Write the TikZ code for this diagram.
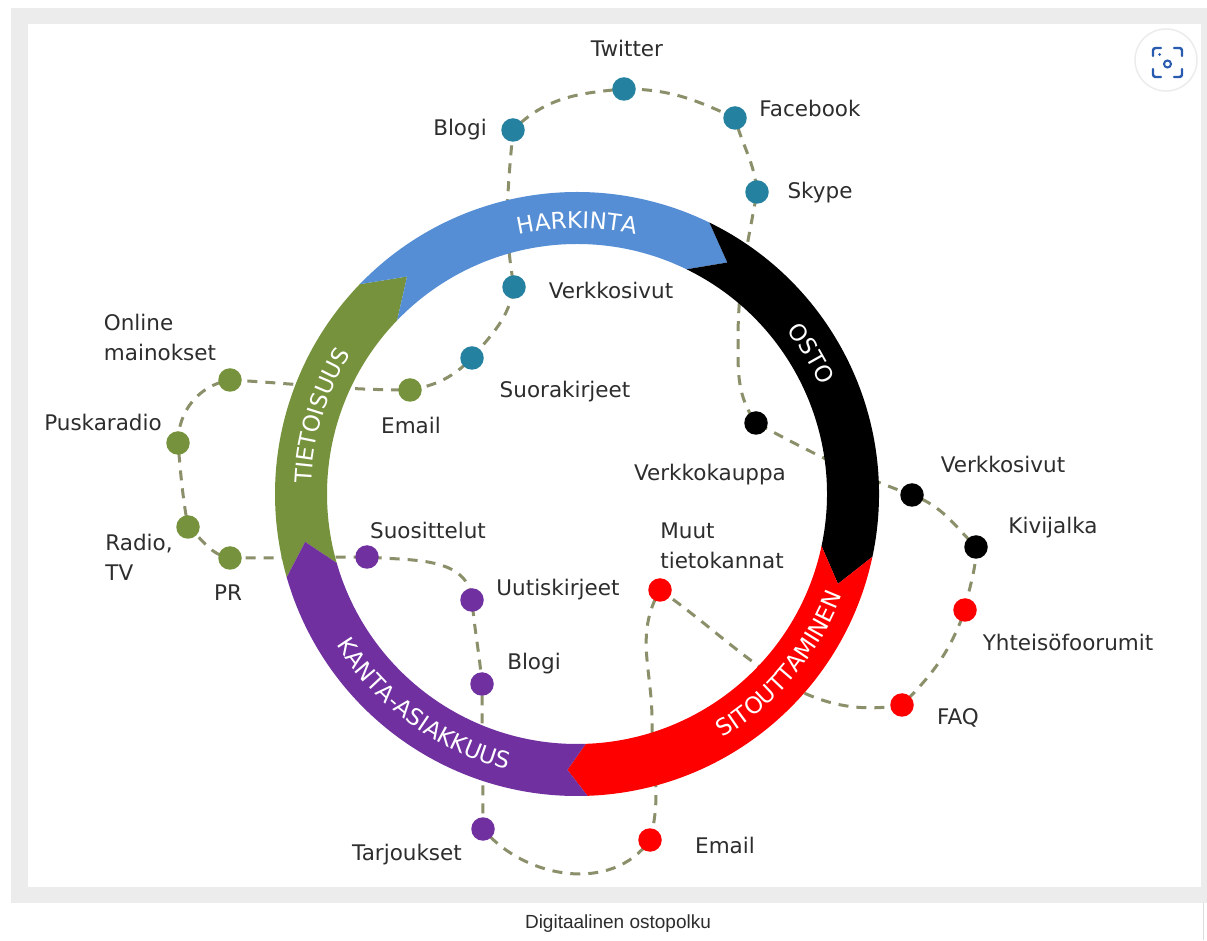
\documentclass[tikz,border=0pt]{standalone}
\usepackage{fontspec}
\setmainfont{DejaVu Sans}
\newfontfamily\capfont{Liberation Sans}
\usetikzlibrary{calc,decorations.text}
\definecolor{cteal}{RGB}{36,130,160}
\definecolor{cgreen}{RGB}{118,146,60}
\definecolor{cpurple}{RGB}{112,48,160}
\definecolor{cred}{RGB}{255,0,0}
\definecolor{cblue}{RGB}{85,142,213}
\definecolor{cpath}{RGB}{140,144,106}
\definecolor{ctext}{RGB}{45,45,45}
\definecolor{cframe}{RGB}{236,236,236}
\definecolor{cicon}{RGB}{40,90,175}
\newcommand\ringfont{\fontsize{23}{23}\selectfont}
% #1 start angle, #2 end angle, #3 colour, #4 tail notch offset, #5 head tip offset
\newcommand\RingSeg[5]{\fill[#3] ($(C)+(#1:302)$) arc[start angle=#1,end angle=#2,radius=302] -- ($(C)+({#2-#5}:276)$) -- ($(C)+(#2:250)$) arc[start angle=#2,end angle=#1,radius=250] -- ($(C)+({#1-#4}:276)$) -- cycle;}
\pgfdeclarelayer{bg}
\pgfdeclarelayer{ring}
\pgfsetlayers{bg,ring,main}
\begin{document}
\begin{tikzpicture}[x=1pt,y=1pt,
  stopdot/.style={circle, fill=#1, minimum size=23.5pt, inner sep=0pt},
  lbl/.style={text=ctext, font=\fontsize{21.5}{30}\selectfont, inner sep=0pt, align=left},
  route/.style={draw=cpath, line width=3pt, dash pattern=on 10pt off 8pt},
  ringtext/.style={decorate, decoration={text along path, text align=center, text color=white, text={|\ringfont|#1}}}
  ]
\useasboundingbox (0,0) rectangle (1207,940);
% dots
\node[stopdot=cteal] (tw) at (624,851) {};
\node[stopdot=cteal] (fb) at (735,822) {};
\node[stopdot=cteal] (sk) at (757,748) {};
\node[stopdot=cteal] (blA) at (513,810) {};
\node[stopdot=cteal] (vs) at (514,653) {};
\node[stopdot=cteal] (sr) at (472,582) {};
\node[stopdot=cgreen] (om) at (230,560) {};
\node[stopdot=cgreen] (pk) at (178,497) {};
\node[stopdot=cgreen] (rt) at (188,413) {};
\node[stopdot=cgreen] (pr) at (230,382) {};
\node[stopdot=cgreen] (em) at (410,550) {};
\node[stopdot=cpurple] (su) at (367,383) {};
\node[stopdot=cpurple] (uk) at (472,340) {};
\node[stopdot=cpurple] (bl) at (482,256) {};
\node[stopdot=cpurple] (ta) at (483,111) {};
\node[stopdot=cred] (mt) at (660,350) {};
\node[stopdot=cred] (yf) at (965,330) {};
\node[stopdot=cred] (fq) at (902,235) {};
\node[stopdot=cred] (er) at (650,100) {};
\node[stopdot=black] (vk) at (756,517) {};
\node[stopdot=black] (vw) at (912,445) {};
\node[stopdot=black] (kj) at (976,393) {};
\coordinate (p1) at (738,600);
\coordinate (p3) at (652,220);
% labels
\node[lbl] (l-tw) at (627,892) {Twitter};
\node[lbl] (l-blA) at (460,810) {Blogi};
\node[lbl] (l-fb) at (810,832) {Facebook};
\node[lbl] (l-sk) at (820,747) {Skype};
\node[lbl] (l-vs) at (611,650) {Verkkosivut};
\node[lbl] (l-sr) at (565,548) {Suorakirjeet};
\node[lbl] (l-om) at (160,603) {Online\\mainokset};
\node[lbl] (l-pk) at (103,518) {Puskaradio};
\node[lbl] (l-rt) at (139,383) {Radio,\\TV};
\node[lbl] (l-pr) at (228,347) {PR};
\node[lbl] (l-em) at (411,515) {Email};
\node[lbl] (l-su) at (428,410) {Suosittelut};
\node[lbl] (l-uk) at (558,350) {Uutiskirjeet};
\node[lbl] (l-bl) at (534,276) {Blogi};
\node[lbl] (l-ta) at (407,85) {Tarjoukset};
\node[lbl] (l-mt) at (722,394) {Muut\\tietokannat};
\node[lbl] (l-yf) at (1068,298) {Yhteisöfoorumit};
\node[lbl] (l-fq) at (958,222) {FAQ};
\node[lbl] (l-er) at (725,95) {Email};
\node[lbl] (l-vk) at (710,465) {Verkkokauppa};
\node[lbl] (l-vw) at (1003,476) {Verkkosivut};
\node[lbl] (l-kj) at (1053,412) {Kivijalka};
\node[text=ctext, font=\capfont\fontsize{19}{19}\selectfont, inner sep=0pt] (cap) at (618,16) {Digitaalinen ostopolku};
% icon
\node[circle, fill=white, draw=cframe, line width=1.5pt, minimum size=62pt, inner sep=0pt] (icon) at (1166,880) {};
\draw[cicon, line width=2.4pt, line cap=round, rounded corners=2.5pt]
  (1153,884) -- (1153,892) -- (1161,892)
  (1174,892) -- (1182,892) -- (1182,884)
  (1182,871) -- (1182,863) -- (1174,863)
  (1161,863) -- (1153,863) -- (1153,871);
\draw[cicon, line width=2pt] (1167.5,876) circle[radius=3.5];
\fill[cicon] (1159.5,885.5) circle[radius=1.5];
% background, frame and route
\begin{pgfonlayer}{bg}
\fill[white] (0,0) rectangle (1207,940);
\fill[cframe] (11,37) rectangle (1207,932);
\fill[white] (28,53) rectangle (1201,916);
\draw[cframe!85!gray, line width=0.8pt] (1203.5,0) -- (1203.5,37);
\draw[route] (tw.center) to[out=0,in=155] (fb.center)
  to[out=-75,in=95] (sk.center)
  to[out=-100,in=90] (p1)
  to[out=-90,in=125] (vk.center)
  to[out=-28,in=160] (vw.center)
  to[out=-20,in=135] (kj.center)
  to[out=-90,in=80] (yf.center)
  to[out=-110,in=45] (fq.center)
  to[out=190,in=-35] (mt.center)
  to[out=-120,in=90] (p3)
  to[out=-90,in=75] (er.center)
  to[out=-125,in=-50] (ta.center)
  to[out=90,in=-90] (bl.center)
  to[out=95,in=-85] (uk.center)
  to[out=95,in=-5] (su.center)
  to[out=180,in=0] (pr.center)
  to[out=170,in=-40] (rt.center)
  to[out=100,in=-85] (pk.center)
  to[out=90,in=190] (om.center)
  to[out=-3,in=180] (em.center)
  to[out=10,in=-135] (sr.center)
  to[out=50,in=-100] (vs.center)
  to[out=100,in=-95] (blA.center)
  to[out=45,in=185] (tw.center);
\end{pgfonlayer}
% ring
\begin{pgfonlayer}{ring}
\coordinate (C) at (577,446);
\RingSeg{196}{136}{cgreen}{6}{8}
\RingSeg{136}{64}{cblue}{8}{7}
\RingSeg{64}{-12}{black}{7}{7}
\RingSeg{-12}{-88}{cred}{7}{4}
\RingSeg{272}{196}{cpurple}{4}{6}
\path[ringtext=HARKINTA] ($(C)+(130:266)$) arc[start angle=130,end angle=50,radius=266];
\path[ringtext=OSTO] ($(C)+(71:266)$) arc[start angle=71,end angle=-9,radius=266];
\path[ringtext=TIETOISUUS] ($(C)+(203:266)$) arc[start angle=203,end angle=123,radius=266];
\path[ringtext=SITOUTTAMINEN] ($(C)+(-85:284)$) arc[start angle=-85,end angle=5,radius=284];
\path[ringtext=KANTA-ASIAKKUUS] ($(C)+(189:284)$) arc[start angle=189,end angle=279,radius=284];
\end{pgfonlayer}
\end{tikzpicture}
\end{document}
